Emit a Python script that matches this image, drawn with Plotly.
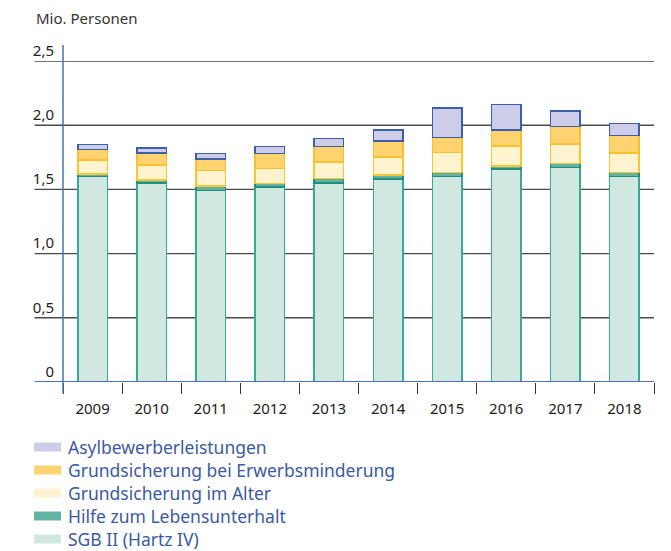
import plotly.graph_objects as go

# Werte in Mio. Personen
jahre = ["2009", "2010", "2011", "2012", "2013", "2014", "2015", "2016", "2017", "2018"]
sgb2 = [1.60, 1.55, 1.49, 1.52, 1.55, 1.58, 1.60, 1.66, 1.67, 1.60]
hlu = [0.02, 0.025, 0.035, 0.026, 0.034, 0.034, 0.033, 0.024, 0.03, 0.033]
alter = [0.109, 0.116, 0.121, 0.117, 0.129, 0.14, 0.153, 0.153, 0.153, 0.151]
erwerb = [0.083, 0.091, 0.092, 0.116, 0.122, 0.124, 0.119, 0.124, 0.135, 0.137]
asyl = [0.039, 0.042, 0.043, 0.057, 0.06, 0.086, 0.229, 0.2, 0.122, 0.091]

y_ticks = [0, 0.5, 1.0, 1.5, 2.0, 2.5]
y_labels = ["0", "0,5", "1,0", "1,5", "2,0", "2,5"]

# name, werte, fuellfarbe, randfarbe (Stapelreihenfolge von unten)
serien = [
    ("SGB II (Hartz IV)", sgb2, "#d1e8e0", "#3aa898"),
    ("Hilfe zum Lebensunterhalt", hlu, "#62b3a2", "#1f8f7f"),
    ("Grundsicherung im Alter", alter, "#fff3d0", "#fbc531"),
    ("Grundsicherung bei Erwerbsminderung", erwerb, "#ffd470", "#fbc02d"),
    ("Asylbewerberleistungen", asyl, "#cdcdea", "#3d5fa8"),
]

fig = go.Figure()
for name, werte, fill, rand in serien:
    fig.add_trace(go.Bar(x=jahre, y=werte, name=name,
                         marker=dict(color=fill, line=dict(color=rand, width=1.5)),
                         showlegend=False))

# die Seite hat 8px Rand, daher etwas kleiner
fig.update_layout(
    barmode="stack",
    bargap=0.5,
    width=663, height=543,
    margin=dict(l=55, r=17, t=53, b=169),
    paper_bgcolor="white", plot_bgcolor="white",
    font=dict(family="Noto Sans", size=15, color="#222222"),
    xaxis=dict(type="category", tickson="boundaries", ticks="outside",
               ticklen=11, tickcolor="#333333", tickwidth=1,
               ticklabelstandoff=16,
               showgrid=False, showline=False, zeroline=False,
               tickfont=dict(size=15, color="#222222")),
    yaxis=dict(range=[0, 2.5], tickvals=y_ticks, ticktext=y_labels,
               ticklabelposition="outside top", ticks="",
               ticklabelstandoff=8,
               showgrid=False, showline=False, zeroline=False,
               tickfont=dict(size=15, color="#222222")),
)

# Gitterlinien, ueber den linken Rand hinaus
for v in y_ticks[1:]:
    fig.add_shape(type="line", xref="paper", yref="y", x0=-0.048, x1=1, y0=v, y1=v,
                  line=dict(color="#4a4a4a", width=1.4), layer="below")
# x-Achse (blau)
fig.add_shape(type="line", xref="paper", yref="y", x0=-0.048, x1=1, y0=0, y1=0,
              line=dict(color="#4a6fb5", width=2), layer="above")
# y-Achse (blau)
fig.add_shape(type="line", xref="paper", yref="paper", x0=0, x1=0, y0=-0.034, y1=1.05,
              line=dict(color="#4a6fb5", width=1.5), layer="above")

fig.add_annotation(text="Mio. Personen", xref="paper", yref="paper", x=-0.049, y=1.133,
                   xanchor="left", yanchor="middle", showarrow=False,
                   font=dict(size=15, color="#333333"))

# Legende von Hand (oberste Serie zuerst)
h = 321.0
for i, (name, werte, fill, rand) in enumerate(reversed(serien)):
    yc = (382 - (447 + 23 * i)) / h
    fig.add_shape(type="rect", xref="paper", yref="paper",
                  x0=-0.049, x1=-0.0034, y0=yc - 4.5 / h, y1=yc + 4.5 / h,
                  fillcolor=fill, line=dict(width=0))
    fig.add_annotation(text=name, xref="paper", yref="paper", x=0.005, y=yc,
                       xanchor="left", yanchor="middle", showarrow=False,
                       font=dict(size=17.5, color="#3d5aa0"))

fig.write_html("out.html")
